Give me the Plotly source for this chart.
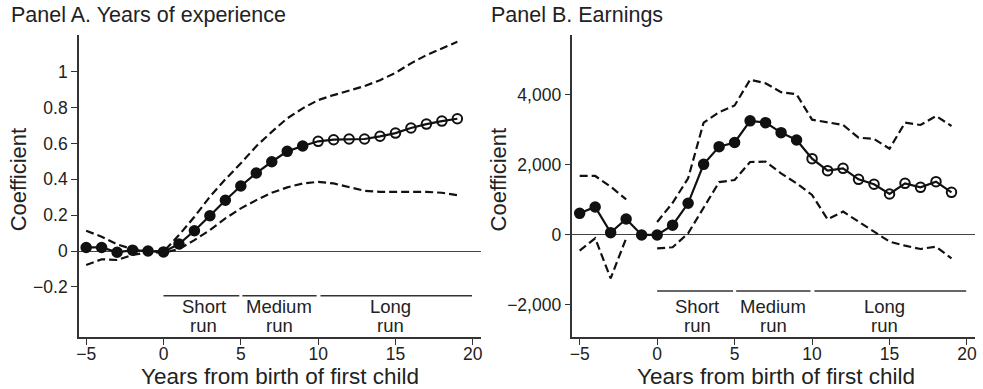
import plotly.graph_objects as go

# Event-time axis: years relative to birth of first child
years = list(range(-5, 20))

# Panel A: years of experience (coefficient, upper and lower 95% bounds)
exp_coef = [0.02, 0.02, -0.007, 0.005, 0.0, -0.005, 0.039, 0.113, 0.197, 0.283,
            0.363, 0.435, 0.498, 0.556, 0.586, 0.612, 0.621, 0.625, 0.625, 0.64,
            0.658, 0.686, 0.708, 0.725, 0.738]
exp_hi = [0.113, 0.08, 0.037, 0.011, 0.002, -0.004, 0.089, 0.191, 0.303, 0.40,
          0.489, 0.585, 0.665, 0.74, 0.796, 0.842, 0.87, 0.895, 0.92, 0.953,
          0.994, 1.047, 1.093, 1.13, 1.167]
exp_lo = [-0.078, -0.046, -0.05, -0.022, -0.006, -0.01, 0.011, 0.061, 0.117, 0.182,
          0.238, 0.284, 0.325, 0.355, 0.377, 0.386, 0.377, 0.355, 0.336, 0.33,
          0.33, 0.334, 0.33, 0.325, 0.312]

# Panel B: earnings (coefficient, upper and lower 95% bounds; no band at t = -1)
earn_coef = [619, 800, 67, 457, 0, 0, 280, 905, 2019, 2524,
             2643, 3262, 3209, 2924, 2714, 2181, 1838, 1905, 1590, 1448,
             1171, 1476, 1362, 1524, 1219]
earn_hi = [1686, 1686, 1381, 1019, None, 370, 920, 1620, 3209, 3510,
           3700, 4437, 4333, 4080, 4020, 3295, 3220, 3143, 2780, 2745,
           2466, 3209, 3143, 3400, 3114]
earn_lo = [-448, -95, -1238, -95, None, -381, -352, 48, 800, 1510,
           1571, 2085, 2095, 1762, 1476, 1143, 448, 667, 381, 95,
           -190, -305, -400, -333, -667]

# Period brackets below the curves
period_word = ["Short", "Medium", "Long"]
period_start = [0.0, 5.1, 10.15]
period_end = [4.9, 9.9, 19.95]
period_mid = [2.6, 7.5, 14.7]

# Tick labels
x_ticks = [-5, 0, 5, 10, 15, 20]
a_tickvals = [-0.2, 0, 0.2, 0.4, 0.6, 0.8, 1]
a_ticktext = ["\u22120.2", "0", "0.2", "0.4", "0.6", "0.8", "1"]
b_tickvals = [-2000, 0, 2000, 4000]
b_ticktext = ["\u22122,000", "0", "2,000", "4,000"]

FONT = "Liberation Sans, Arial, Helvetica, sans-serif"
INK = "#222222"
AXIS = "#333333"

fig = go.Figure()

long_run_start = 10
symbols = ["circle" if t < long_run_start else "circle-open" for t in years]


def add_panel(xa, ya, coef, hi, lo):
    dash = dict(color="#111111", width=2.2, dash="8px,4px")
    fig.add_trace(go.Scatter(x=years, y=hi, mode="lines", line=dash,
                             connectgaps=False, xaxis=xa, yaxis=ya,
                             showlegend=False, hoverinfo="skip"))
    fig.add_trace(go.Scatter(x=years, y=lo, mode="lines", line=dash,
                             connectgaps=False, xaxis=xa, yaxis=ya,
                             showlegend=False, hoverinfo="skip"))
    fig.add_trace(go.Scatter(x=years, y=coef, mode="lines+markers",
                             line=dict(color="#111111", width=2.2),
                             marker=dict(symbol=symbols, size=9.5, color="#111111",
                                         line=dict(color="#111111", width=2)),
                             xaxis=xa, yaxis=ya, showlegend=False))


add_panel("x", "y", exp_coef, exp_hi, exp_lo)
add_panel("x2", "y2", earn_coef, earn_hi, earn_lo)

axis_common = dict(showline=True, linecolor=AXIS, linewidth=1.5, ticks="outside",
                   ticklen=6, tickwidth=1.2, tickcolor=AXIS, showgrid=False,
                   tickfont=dict(family=FONT, size=17.5, color=INK))

y_domain = [0.133, 0.910]
x_range = [-5.47, 20.5]

fig.update_layout(
    width=983, height=389,
    margin=dict(l=0, r=0, t=0, b=0),
    paper_bgcolor="white", plot_bgcolor="white",
    font=dict(family=FONT, color=INK),
    xaxis=dict(domain=[0.0776, 0.4883], range=x_range, tickvals=x_ticks,
               zeroline=False, anchor="y", ticklabelstandoff=-6, **axis_common),
    yaxis=dict(domain=y_domain, range=[-0.481, 1.205], tickvals=a_tickvals,
               ticktext=a_ticktext, zeroline=True, zerolinecolor="#444444",
               zerolinewidth=1.2, anchor="x", **axis_common),
    xaxis2=dict(domain=[0.5822, 0.9936], range=x_range, tickvals=x_ticks,
                zeroline=False, anchor="y2", ticklabelstandoff=-6, **axis_common),
    yaxis2=dict(domain=y_domain, range=[-2923, 5714], tickvals=b_tickvals,
                ticktext=b_ticktext, zeroline=True, zerolinecolor="#444444",
                zerolinewidth=1.2, anchor="x2", **axis_common),
)

shapes = []
annotations = []

# Bracket lines and labels for each panel
for xa, ya, bracket_y in (("x", "y", -0.249), ("x2", "y2", -1600)):
    for word, s, e, m in zip(period_word, period_start, period_end, period_mid):
        shapes.append(dict(type="line", xref=xa, yref=ya, x0=s, x1=e,
                           y0=bracket_y, y1=bracket_y,
                           line=dict(color=AXIS, width=1.5)))
        annotations.append(dict(xref=xa, yref="paper", x=m, y=0.2116, text=word,
                                showarrow=False, xanchor="center", yanchor="middle",
                                font=dict(family=FONT, size=18.5, color=INK)))
        annotations.append(dict(xref=xa, yref="paper", x=m, y=0.1645, text="run",
                                showarrow=False, xanchor="center", yanchor="middle",
                                font=dict(family=FONT, size=18.5, color=INK)))

# Panel titles
for x, text in ((0.0061, "Panel A. Years of experience"), (0.4965, "Panel B. Earnings")):
    annotations.append(dict(xref="paper", yref="paper", x=x, y=0.9614, text=text,
                            showarrow=False, xanchor="left", yanchor="middle",
                            font=dict(family=FONT, size=21.5, color=INK)))

# Axis titles
for x in (16.5 / 983, 498 / 983):
    annotations.append(dict(xref="paper", yref="paper", x=x, y=0.54, text="Coefficient",
                            textangle=-90, showarrow=False, xanchor="center",
                            yanchor="middle",
                            font=dict(family=FONT, size=22, color=INK)))
for x in (278 / 983, 776.7 / 983):
    annotations.append(dict(xref="paper", yref="paper", x=x, y=0.0316,
                            text="Years from birth of first child",
                            showarrow=False, xanchor="center", yanchor="middle",
                            font=dict(family=FONT, size=22.5, color=INK)))

fig.update_layout(shapes=shapes, annotations=annotations)

fig.write_html("out.html")
